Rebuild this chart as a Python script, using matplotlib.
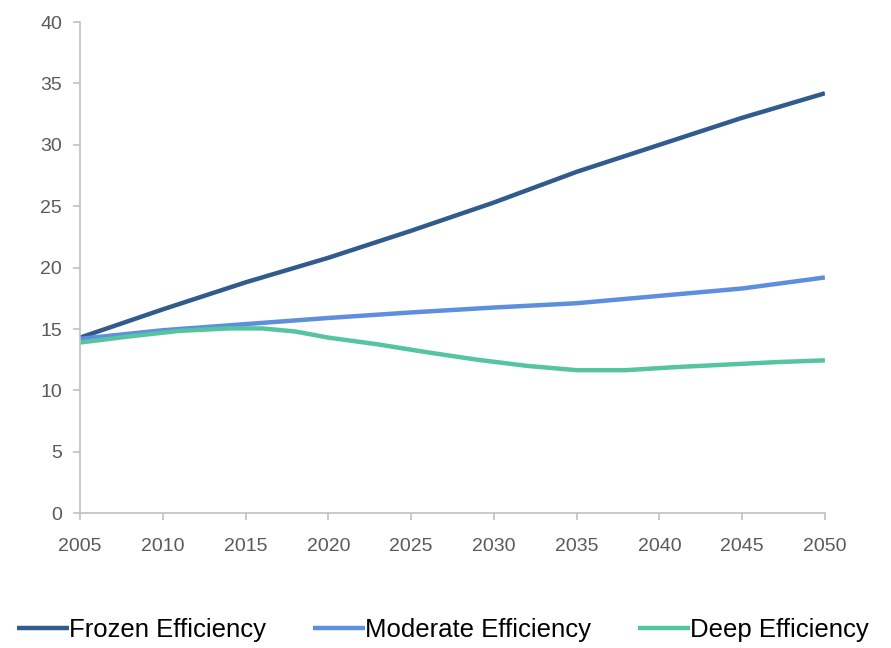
import matplotlib.pyplot as plt

YEARS = [2005, 2010, 2015, 2020, 2025, 2030, 2035, 2040, 2045, 2050]
FROZEN = [14.3, 16.6, 18.8, 20.8, 23.0, 25.3, 27.8, 30.0, 32.2, 34.2]
MODERATE = [14.2, 14.9, 15.4, 15.9, 16.35, 16.75, 17.1, 17.7, 18.3, 19.2]

DEEP_YEARS = [2005, 2008, 2011, 2014, 2016, 2018, 2020, 2023, 2026, 2029,
              2032, 2035, 2038, 2041, 2044, 2047, 2050]
DEEP = [13.9, 14.4, 14.85, 15.05, 15.05, 14.8, 14.3, 13.75, 13.1, 12.5,
        12.0, 11.65, 11.65, 11.9, 12.1, 12.3, 12.45]

SERIES = ["Frozen Efficiency", "Moderate Efficiency", "Deep Efficiency"]
COLORS = ["#305b8c", "#5d8fde", "#55c4a0"]

plt.rcParams["font.family"] = ["Liberation Sans", "DejaVu Sans"]

fig = plt.figure(figsize=(8.91, 6.48), dpi=100)
ax = fig.add_axes([0.0898, 0.208, 0.836, 0.758])

lines = [(YEARS, FROZEN), (YEARS, MODERATE), (DEEP_YEARS, DEEP)]
for (xs, ys), name, color in zip(lines, SERIES, COLORS):
    ax.plot(xs, ys, color=color, linewidth=3.2, label=name,
            solid_capstyle="butt", solid_joinstyle="round")

ax.set_xlim(2005, 2050)
ax.set_ylim(0, 40)
ax.set_xticks(range(2005, 2051, 5))
ax.set_yticks(range(0, 41, 5))

for side in ["top", "right"]:
    ax.spines[side].set_visible(False)
for side in ["left", "bottom"]:
    ax.spines[side].set_color("#c0c0c0")
    ax.spines[side].set_linewidth(1.2)

ax.tick_params(colors="#c0c0c0", labelcolor="#5a5a5a", labelsize=14,
               length=5, width=1.2)
ax.tick_params(axis="x", pad=13)
ax.tick_params(axis="y", pad=8)

fig.legend(loc="lower center", bbox_to_anchor=(0.497, -0.018), ncol=3,
           frameon=False, fontsize=18.5, handlelength=2.05, handletextpad=0.0,
           columnspacing=1.8, borderaxespad=0.3)

fig.savefig("out.png", dpi=100)
